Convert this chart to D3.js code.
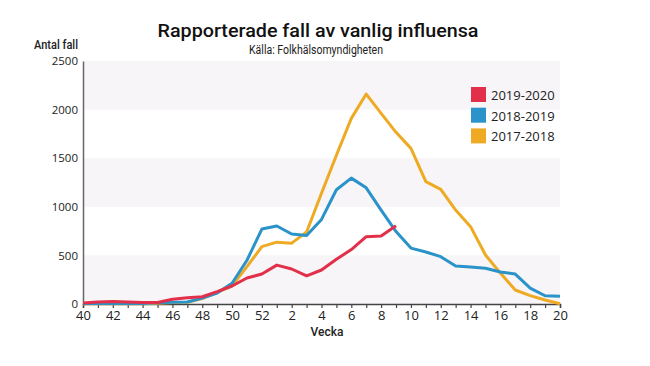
<!DOCTYPE html>
<html>
<head>
<meta charset="utf-8">
<script src="https://cdn.jsdelivr.net/npm/d3@7"></script>
<style>
  body { margin: 0; background: #fff; }
  svg { display: block; font-family: Roboto, "Noto Sans", sans-serif; }
</style>
</head>
<body>
<div id="chart"></div>
<script>
// Weeks from 40 (2019) to 20 (2020).
const weeks = [40, 41, 42, 43, 44, 45, 46, 47, 48, 49, 50, 51, 52,
  1, 2, 3, 4, 5, 6, 7, 8, 9, 10, 11, 12, 13, 14, 15, 16, 17, 18, 19, 20];
const tickWeeks = [40, 42, 44, 46, 48, 50, 52, 2, 4, 6, 8, 10, 12, 14, 16, 18, 20];
const yTicks = [0, 500, 1000, 1500, 2000, 2500];
const seasons = ["2019-2020", "2018-2019", "2017-2018"];
const seasonColors = ["#e2304a", "#2a93c9", "#eeaa22"];

// Reported cases per week.
const cases20192020 = [10, 20, 25, 20, 15, 15, 48, 65, 75, 127, 185, 267, 308,
  400, 360, 290, 350, 460, 560, 692, 700, 806];
const cases20182019 = [5, 5, 5, 5, 5, 12, 18, 20, 60, 113, 214, 450, 771,
  802, 720, 705, 870, 1175, 1295, 1195, 965, 745, 575, 535, 487, 391, 380, 367, 329, 308, 164, 85, 80];
const cases20172018 = [3, 3, 3, 3, 3, 8, 15, 18, 55, 120, 186, 384, 590,
  636, 626, 740, 1140, 1530, 1910, 2160, 1962, 1766, 1601, 1259, 1180, 967, 796, 504, 318, 144, 86, 41, 2];

const width = 650, height = 366;
const margin = { top: 61, right: 90, bottom: 62, left: 83 };

const svg = d3.select("#chart").append("svg")
  .attr("width", width)
  .attr("height", height);

// Index-based x scale so the year change keeps the spacing.
const x = d3.scaleLinear()
  .domain([0, weeks.length - 1])
  .range([margin.left, width - margin.right]);
const y = d3.scaleLinear()
  .domain([0, 2500])
  .range([height - margin.bottom, margin.top]);

// Alternating light bands behind the lines.
for (let i = 0; i < yTicks.length - 1; i += 2) {
  svg.append("rect")
    .attr("x", x(0))
    .attr("y", y(yTicks[i + 1]))
    .attr("width", x(weeks.length - 1) - x(0))
    .attr("height", y(yTicks[i]) - y(yTicks[i + 1]))
    .attr("fill", "#f7f5f7");
}

// Title and source.
svg.append("text")
  .attr("x", 318)
  .attr("y", 37)
  .attr("text-anchor", "middle")
  .attr("font-size", "19px")
  .attr("font-weight", 500)
  .attr("fill", "#111")
  .attr("textLength", 321)
  .attr("lengthAdjust", "spacingAndGlyphs")
  .text("Rapporterade fall av vanlig influensa");
svg.append("text")
  .attr("x", 316)
  .attr("y", 53.5)
  .attr("text-anchor", "middle")
  .attr("font-size", "12px")
  .attr("fill", "#222")
  .attr("textLength", 134)
  .attr("lengthAdjust", "spacingAndGlyphs")
  .text("Källa: Folkhälsomyndigheten");
svg.append("text")
  .attr("x", 34)
  .attr("y", 48.5)
  .attr("font-size", "12px")
  .attr("font-weight", 500)
  .attr("fill", "#222")
  .attr("textLength", 44)
  .attr("lengthAdjust", "spacingAndGlyphs")
  .text("Antal fall");

// Y axis.
const yAxis = svg.append("g")
  .attr("transform", `translate(${margin.left},0)`)
  .call(d3.axisLeft(y).tickValues(yTicks).tickFormat(d3.format("d")).tickSize(0).tickPadding(5));
yAxis.select(".domain").attr("stroke", "#666").attr("stroke-width", 1.5);
yAxis.selectAll("text")
  .attr("font-family", "'Open Sans', sans-serif")
  .attr("font-size", "11.5px")
  .attr("fill", "#222");

// X axis: tick for every week, label every other week.
const xAxis = svg.append("g")
  .attr("transform", `translate(0,${height - margin.bottom})`)
  .call(d3.axisBottom(x)
    .tickValues(d3.range(weeks.length))
    .tickSize(4)
    .tickPadding(3)
    .tickFormat(i => tickWeeks.includes(weeks[i]) ? weeks[i] : ""));
xAxis.select(".domain").attr("stroke", "#444").attr("stroke-width", 1.5);
xAxis.selectAll(".tick line").attr("stroke", "#444").attr("stroke-width", 1.2);
xAxis.selectAll("text")
  .attr("font-family", "'Open Sans', sans-serif")
  .attr("font-size", "13px")
  .attr("fill", "#222");

svg.append("text")
  .attr("x", 327)
  .attr("y", 336)
  .attr("text-anchor", "middle")
  .attr("font-size", "12px")
  .attr("font-weight", 500)
  .attr("fill", "#222")
  .text("Vecka");

// Lines, oldest season first so the current one sits on top.
const line = d3.line()
  .x((d, i) => x(i))
  .y(d => y(d));
const series = [cases20192020, cases20182019, cases20172018];
[2, 1, 0].forEach(k => {
  svg.append("path")
    .datum(series[k])
    .attr("fill", "none")
    .attr("stroke", seasonColors[k])
    .attr("stroke-width", 3)
    .attr("stroke-linejoin", "round")
    .attr("d", line);
});

// Legend.
seasons.forEach((s, i) => {
  svg.append("rect")
    .attr("x", 471)
    .attr("y", 87 + i * 20.7)
    .attr("width", 15)
    .attr("height", 15)
    .attr("fill", seasonColors[i]);
  svg.append("text")
    .attr("x", 491)
    .attr("y", 100 + i * 20.7)
    .attr("font-family", "'Open Sans', sans-serif")
    .attr("font-size", "13px")
    .attr("fill", "#222")
    .text(s);
});
</script>
</body>
</html>
